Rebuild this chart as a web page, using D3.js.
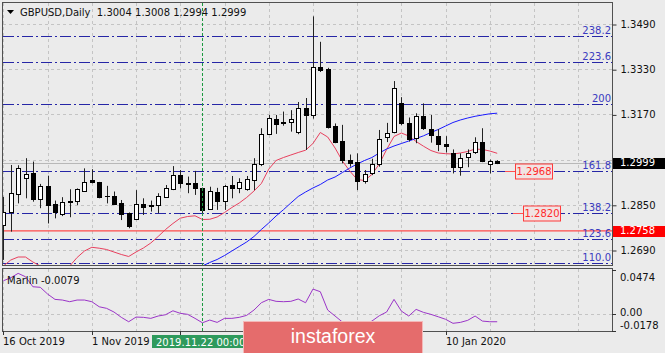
<!DOCTYPE html>
<html><head><meta charset="utf-8">
<script src="https://cdn.jsdelivr.net/npm/d3@7"></script>
<style>
body{margin:0;background:#ebebeb}
svg{display:block}
text{font-family:"DejaVu Sans",sans-serif;font-size:10px}
</style>
</head><body>
<svg id="c" width="665" height="353"></svg>
<script>
// ---------------- data ----------------
const dates=["2019-10-16","2019-10-17","2019-10-18","2019-10-21","2019-10-22","2019-10-23","2019-10-24","2019-10-25","2019-10-28","2019-10-29","2019-10-30","2019-10-31",
"2019-11-01","2019-11-04","2019-11-05","2019-11-06","2019-11-07","2019-11-08","2019-11-11","2019-11-12","2019-11-13","2019-11-14","2019-11-15","2019-11-18","2019-11-19","2019-11-20","2019-11-21","2019-11-22","2019-11-25","2019-11-26","2019-11-27","2019-11-28","2019-11-29",
"2019-12-02","2019-12-03","2019-12-04","2019-12-05","2019-12-06","2019-12-09","2019-12-10","2019-12-11","2019-12-12","2019-12-13","2019-12-16","2019-12-17","2019-12-18","2019-12-19","2019-12-20","2019-12-23","2019-12-24","2019-12-26","2019-12-27","2019-12-30","2019-12-31",
"2020-01-02","2020-01-03","2020-01-06","2020-01-07","2020-01-08","2020-01-09","2020-01-10","2020-01-13","2020-01-14","2020-01-15","2020-01-16","2020-01-17","2020-01-20","2020-01-21"];
const open =[1.2778,1.2826,1.2888,1.2946,1.2964,1.2871,1.2917,1.2852,1.2816,1.2864,1.2864,1.2899,1.2937,1.2930,1.2882,1.2882,1.2858,1.2822,1.2799,1.2853,1.2848,1.2849,1.2879,1.2905,1.2956,1.2928,1.2926,1.2911,1.2835,1.2896,1.2862,1.2920,1.2908,1.2906,1.2938,1.2993,1.3101,1.3154,1.3142,1.3142,1.3109,1.3192,1.3167,1.3338,1.3330,1.3129,1.3076,1.3009,1.3000,1.2935,1.2961,1.2994,1.3089,1.3109,1.3212,1.3138,1.3085,1.3166,1.3117,1.3094,1.3064,1.3032,1.2985,1.3018,1.3036,1.3074,1.2994,1.3004];
const high =[1.2878,1.2991,1.2990,1.3015,1.3003,1.2924,1.2953,1.2865,1.2877,1.2905,1.2908,1.2979,1.2976,1.2931,1.2917,1.2897,1.2867,1.2823,1.2902,1.2873,1.2865,1.2891,1.2920,1.2987,1.2973,1.2950,1.2970,1.2911,1.2914,1.2910,1.2920,1.2952,1.2944,1.2952,1.3015,1.3121,1.3168,1.3168,1.3180,1.3185,1.3214,1.3228,1.3517,1.3427,1.3335,1.3138,1.3133,1.3028,1.3032,1.2973,1.3013,1.3115,1.3140,1.3288,1.3231,1.3159,1.3174,1.3209,1.3168,1.3118,1.3093,1.3046,1.3032,1.3046,1.3089,1.3121,1.3010,1.3008];
const low  =[1.2655,1.2755,1.2855,1.2873,1.2861,1.2838,1.2784,1.2802,1.2810,1.2806,1.2849,1.2897,1.2926,1.2873,1.2855,1.2849,1.2796,1.2767,1.2796,1.2814,1.2826,1.2820,1.2877,1.2902,1.2908,1.2891,1.2885,1.2820,1.2832,1.2832,1.2832,1.2873,1.2891,1.2900,1.2902,1.2987,1.3097,1.3101,1.3130,1.3109,1.3100,1.3044,1.3155,1.3320,1.3120,1.3068,1.2997,1.2985,1.2902,1.2925,1.2955,1.2985,1.3072,1.3103,1.3132,1.3074,1.3068,1.3115,1.3070,1.3040,1.3035,1.2961,1.2953,1.2983,1.3030,1.3001,1.2961,1.2994];
const close=[1.2826,1.2891,1.2982,1.2958,1.2869,1.2917,1.2849,1.2826,1.2861,1.2861,1.2906,1.2930,1.2930,1.2877,1.2880,1.2852,1.2816,1.2775,1.2853,1.2843,1.2846,1.2882,1.2908,1.2956,1.2928,1.2924,1.2908,1.2832,1.2899,1.2865,1.2918,1.2908,1.2930,1.2941,1.2993,1.3101,1.3156,1.3135,1.3138,1.3152,1.3192,1.3168,1.3338,1.3326,1.3127,1.3074,1.3009,1.2997,1.2935,1.2958,1.2994,1.3082,1.3105,1.3265,1.3138,1.3082,1.3166,1.3121,1.3097,1.3064,1.3058,1.2985,1.3017,1.3035,1.3074,1.3004,1.3006,1.2999];
// red moving average (one value per bar)
const maFast=[1.26334,1.26546,1.26652,1.26652,1.26475,1.26334,1.26263,1.26192,1.26227,1.26334,1.26635,1.26865,1.26996,1.26964,1.26918,1.26829,1.26741,1.26670,1.26829,1.26971,1.27148,1.27378,1.27626,1.27838,1.28026,1.28086,1.28111,1.27980,1.27987,1.28068,1.28227,1.28404,1.28564,1.28758,1.28988,1.29254,1.29761,1.30068,1.30174,1.30263,1.30351,1.30433,1.30670,1.31059,1.30900,1.30511,1.30050,1.29697,1.29396,1.29360,1.29573,1.29944,1.30458,1.30918,1.31042,1.30935,1.30741,1.30574,1.30422,1.30334,1.30309,1.30298,1.30334,1.30387,1.30475,1.30458,1.30404,1.30323];
// blue moving average, visible from 2019-11-22
const maSlowFrom="2019-11-22";
const maSlow=[1.26334,1.26458,1.26564,1.26705,1.26865,1.27024,1.27183,1.27378,1.27626,1.27856,1.28104,1.28327,1.28564,1.28794,1.28953,1.29095,1.29219,1.29378,1.29484,1.29643,1.29803,1.29944,1.30068,1.30174,1.30334,1.30475,1.30581,1.30670,1.30758,1.30847,1.30942,1.31059,1.31165,1.31289,1.31413,1.31502,1.31573,1.31633,1.31679,1.31721,1.31743];
const marlin=[0.0359,0.0391,0.0438,0.0402,0.0295,0.0289,0.0217,0.0160,0.0153,0.0135,0.0153,0.0153,0.0135,0.0081,0.0064,0.0025,-0.0032,-0.0079,-0.0029,-0.0032,-0.0043,-0.0018,-0.0004,0.0038,0.0011,0.0000,-0.0043,-0.0090,-0.0061,-0.0086,-0.0043,-0.0043,-0.0032,-0.0011,0.0046,0.0124,0.0160,0.0139,0.0135,0.0139,0.0164,0.0124,0.0270,0.0242,0.0046,-0.0018,-0.0082,-0.0125,-0.0136,-0.0114,-0.0072,-0.0015,0.0025,0.0160,0.0035,-0.0018,0.0053,0.0021,0.0000,-0.0026,-0.0053,-0.0096,-0.0086,-0.0064,-0.0018,-0.0072,-0.0079,-0.0079];
const fibLabels=["238.2","223.6","200","161.8","138.2","123.6","110.0"];
const fibPrices=[1.3447,1.3356,1.3208,1.2968,1.2820,1.2728,1.2643];
const priceGrid=[1.3490,1.3330,1.3170,1.3010,1.2850,1.2690];
const priceLabels=[1.3490,1.3330,1.3170,1.2850,1.2690];
const subTicks=[0.0474,0.00,-0.0178];
const subTickText=["0.0474","0.00","-0.0178"];
const supportPrice=1.2758;
const bidPrice=1.2999;
const markerTexts=["1.2968","1.2820"];
const markerPrices=[1.2968,1.2820];
const tickDates=["2019-10-16","2019-11-01","2019-11-19","2019-12-05","2019-12-23","2020-01-10"];
const labelDates=["2019-10-16","2019-11-01","2020-01-10"];
const labelTexts=["16 Oct 2019","1 Nov 2019","10 Jan 2020"];
const crossDate="2019-11-22";
const crossLabel="2019.11.22 00:00";
const titleText="GBPUSD,Daily  1.3004 1.3008 1.2994 1.2999";
const indicatorText="Marlin -0.0079";
const brand="instaforex";

// ---------------- layout ----------------
const L=3,R=612,T=3,B=265,ST=269,SB=331;
const svg=d3.select("#c");
svg.append("rect").attr("width",665).attr("height",353).attr("fill","#ebebeb");
const idx=d=>dates.indexOf(d);
const x=d3.scaleLinear().domain([0,67]).range([3.4,3.4+67*7.37]);
const y=d3.scaleLinear().domain([1.3490,1.2690]).range([24,250]);
const ys=d3.scaleLinear().domain([-0.0178,0.0474]).range([SB,ST+1]);
const px=v=>Math.round(v)+0.5;

const defs=svg.append("defs");
defs.append("clipPath").attr("id","cm").append("rect").attr("x",L).attr("y",T).attr("width",R-L).attr("height",B-T);
defs.append("clipPath").attr("id","cs").append("rect").attr("x",L).attr("y",ST).attr("width",R-L).attr("height",SB-ST);

const gm=svg.append("g").attr("clip-path","url(#cm)");
const gs=svg.append("g").attr("clip-path","url(#cs)");

// grid
const gridIdx=d3.range(0,84,6);
[gm,gs].forEach((g,j)=>{
  g.selectAll(".vg").data(gridIdx).enter().append("line")
   .attr("x1",d=>px(x(d))).attr("x2",d=>px(x(d)))
   .attr("y1",j?ST:T).attr("y2",j?SB:B)
   .attr("stroke","#c4c4c4").attr("stroke-dasharray","3,3");
});
gm.selectAll(".hg").data(priceGrid).enter().append("line")
  .attr("x1",L).attr("x2",R).attr("y1",d=>px(y(d))).attr("y2",d=>px(y(d)))
  .attr("stroke","#c4c4c4").attr("stroke-dasharray","3,3");
gs.append("line").attr("x1",L).attr("x2",R).attr("y1",px(ys(0))).attr("y2",px(ys(0)))
  .attr("stroke","#c4c4c4").attr("stroke-dasharray","3,3");

// bid line
gm.append("line").attr("x1",L).attr("x2",R).attr("y1",px(y(bidPrice))).attr("y2",px(y(bidPrice)))
  .attr("stroke","#b8b8b8");

// support line
gm.append("line").attr("x1",L).attr("x2",R).attr("y1",y(supportPrice)).attr("y2",y(supportPrice))
  .attr("stroke","#ff4a4a").attr("stroke-width",1.3);

// fib levels
gm.selectAll(".fib").data(fibPrices).enter().append("line")
  .attr("x1",L).attr("x2",R).attr("y1",d=>px(y(d))).attr("y2",d=>px(y(d)))
  .attr("stroke","#2626a6").attr("stroke-dasharray","11,3,2,3");
gm.selectAll(".fibt").data(fibPrices).enter().append("text")
  .attr("x",R-1).attr("y",d=>y(d)-2).attr("text-anchor","end")
  .attr("fill","#3a3ac0").text((d,i)=>fibLabels[i]);

// moving averages
const lineFast=d3.line().x((d,i)=>x(i)).y(d=>y(d));
gm.append("path").attr("d",lineFast(maFast)).attr("fill","none").attr("stroke","#e8405e").attr("stroke-width",1);
const s0=idx(maSlowFrom);
const lineSlow=d3.line().x((d,i)=>x(i+s0)).y(d=>y(d));
gm.append("path").attr("d",lineSlow(maSlow)).attr("fill","none").attr("stroke","#1a1aff").attr("stroke-width",1);

// candles
const cg=gm.append("g");
dates.forEach((d,i)=>{
  const cx=Math.round(x(i));
  cg.append("line").attr("x1",cx+0.5).attr("x2",cx+0.5).attr("y1",y(high[i])).attr("y2",y(low[i]))
    .attr("stroke","#222").attr("stroke-width",1);
  const yo=y(open[i]),yc=y(close[i]);
  const top=Math.round(Math.min(yo,yc)),bot=Math.round(Math.max(yo,yc));
  const up=close[i]>=open[i];
  if(bot-top<1){
    cg.append("line").attr("x1",cx-2).attr("x2",cx+3).attr("y1",top+0.5).attr("y2",top+0.5).attr("stroke","#000");
  } else {
    cg.append("rect").attr("x",cx-1.5).attr("y",top+0.5).attr("width",4).attr("height",bot-top)
      .attr("fill",up?"#fff":"#000").attr("stroke","#000");
  }
});

// red price markers
markerPrices.forEach((p,i)=>{
  const yy=Math.round(y(p))+0.5;
  const bx=i===0?515:523;
  svg.append("line").attr("x1",bx-10).attr("x2",bx).attr("y1",yy).attr("y2",yy).attr("stroke","#ff5050");
  svg.append("rect").attr("x",bx+0.5).attr("y",yy-7.5).attr("width",37).attr("height",15)
    .attr("fill","#f1e3e3").attr("stroke","#ff3a3a");
  svg.append("text").attr("x",bx+19).attr("y",yy).attr("dy","0.36em").attr("text-anchor","middle")
    .attr("fill","#ff2a2a").text(markerTexts[i]);
});

// indicator
gs.append("path").attr("d",d3.line().x((d,i)=>x(i)).y(d=>ys(d))(marlin))
  .attr("fill","none").attr("stroke","#9b35c8").attr("stroke-width",1);

// crosshair
svg.append("line").attr("x1",px(x(idx(crossDate)))).attr("x2",px(x(idx(crossDate))))
  .attr("y1",T).attr("y2",SB).attr("stroke","#1c9a40").attr("stroke-dasharray","3,2");

// frames
svg.append("rect").attr("x",L-0.5).attr("y",T-0.5).attr("width",R-L+1).attr("height",B-T+1)
  .attr("fill","none").attr("stroke","#505050");
svg.append("rect").attr("x",L-0.5).attr("y",ST-0.5).attr("width",R-L+1).attr("height",SB-ST+1)
  .attr("fill","none").attr("stroke","#505050");

// price axis
const ax=d3.axisRight(y).tickValues(priceLabels).tickSize(4).tickPadding(4).tickFormat(d3.format(".4f"));
const ga=svg.append("g").attr("transform",`translate(${R+0.5},0)`).call(ax);
ga.select(".domain").remove();
ga.selectAll("line").attr("stroke","#333").attr("transform","translate(0,0.5)");
ga.selectAll("text").attr("fill","#111").style("font-family","DejaVu Sans").style("font-size","10px");

// bid and support boxes
[[bidPrice,"#000"],[supportPrice,"#ff0000"]].forEach(([p,c])=>{
  const yy=y(p);
  svg.append("rect").attr("x",R+1).attr("y",Math.round(yy)-5).attr("width",665-R).attr("height",11).attr("fill",c);
  svg.append("text").attr("x",R+8).attr("y",yy).attr("dy","0.36em").attr("fill","#fff").text(d3.format(".4f")(p));
});

// sub axis
subTicks.forEach((v,i)=>{
  const yy=ys(v);
  svg.append("line").attr("x1",R).attr("x2",R+4).attr("y1",px(yy)).attr("y2",px(yy)).attr("stroke","#333");
  const ty=i===0?yy+7:(i===2?yy-5.5:yy-1.5);
  svg.append("text").attr("x",R+8).attr("y",ty).attr("dy","0.36em").attr("fill","#111").text(subTickText[i]);
});

// date axis
const gd=svg.append("g");
tickDates.forEach(d=>{
  const xx=px(x(idx(d)));
  gd.append("line").attr("x1",xx).attr("x2",xx).attr("y1",SB).attr("y2",SB+4).attr("stroke","#333");
});
labelDates.forEach((d,i)=>{
  gd.append("text").attr("x",px(x(idx(d)))-0.5).attr("y",345).attr("fill","#111").text(labelTexts[i]);
});
// crosshair date box
svg.append("rect").attr("x",152).attr("y",335).attr("width",100).attr("height",13).attr("fill","#2e9a5c");
svg.append("text").attr("x",156).attr("y",345.5).attr("fill","#fff").text(crossLabel);

// title
svg.append("path").attr("d","M7,10 L14,10 L10.5,14 Z").attr("fill","#000");
svg.append("text").attr("x",20).attr("y",16).attr("fill","#111").attr("xml:space","preserve").style("white-space","pre").text(titleText);
svg.append("text").attr("x",7).attr("y",283.5).attr("fill","#111").text(indicatorText);

// brand
svg.append("rect").attr("x",243.5).attr("y",321.5).attr("width",179).attr("height",40)
  .attr("fill","#e56c6c").attr("stroke","#f4b8b8");
svg.append("text").attr("x",333).attr("y",343.3).attr("text-anchor","middle").attr("fill","#fff")
  .style("font-family","'Liberation Sans',Arial,sans-serif").style("font-size","19.5px").text(brand);
</script>
</body></html>
